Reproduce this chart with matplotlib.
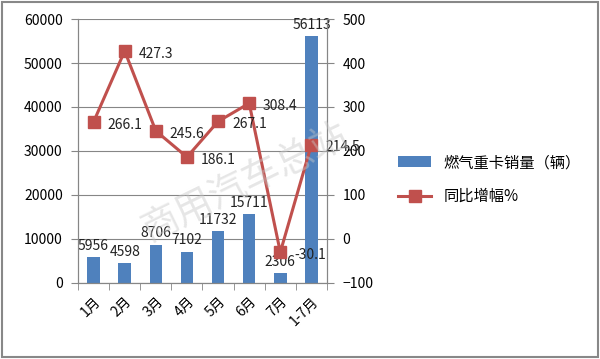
import matplotlib.pyplot as plt
import numpy as np

plt.rcParams['font.family'] = ['Noto Sans CJK SC', 'DejaVu Sans']

months = ['1月', '2月', '3月', '4月', '5月', '6月', '7月', '1-7月']
sales = [5956, 4598, 8706, 7102, 11732, 15711, 2306, 56113]
growth = [266.1, 427.3, 245.6, 186.1, 267.1, 308.4, -30.1, 214.5]

bar_color = '#4F81BD'
line_color = '#C0504D'
axis_gray = '#868686'

fig = plt.figure(figsize=(6, 3.59), dpi=100)
ax1 = fig.add_axes([0.13, 0.212, 0.415, 0.735])
ax2 = ax1.twinx()

x = np.arange(len(months))
ax1.bar(x, sales, width=0.4, color=bar_color, zorder=2, label='燃气重卡销量（辆）')
for xi, v in zip(x, sales):
    ax1.annotate(str(v), (xi, v), xytext=(0, 3), textcoords='offset points',
                 ha='center', va='bottom', fontsize=10, color='#222222')

ax2.plot(x, growth, color=line_color, linewidth=2.2, marker='s', markersize=9,
         label='同比增幅%', zorder=3)
for xi, v in zip(x, growth):
    ax2.annotate(f'{v:.1f}', (xi, v), xytext=(10, -2), textcoords='offset points',
                 ha='left', va='center', fontsize=10, color='#222222')

ax1.set_xlim(-0.5, len(months) - 0.5)
ax1.set_ylim(0, 60000)
ax1.set_yticks(np.arange(0, 60001, 10000))
ax2.set_ylim(-100, 500)
ax2.set_yticks(np.arange(-100, 501, 100))

ax1.set_xticks(x)
ax1.set_xticklabels(months, rotation=45, ha='right', rotation_mode='anchor')
ax1.set_xticks(np.arange(-0.5, len(months), 1), minor=True)
ax1.tick_params(axis='x', which='major', length=0, pad=8, labelsize=10)
ax1.tick_params(axis='x', which='minor', length=5, color=axis_gray)
ax1.tick_params(axis='y', length=5, color=axis_gray, labelsize=10, pad=6)
ax2.tick_params(axis='y', length=5, color=axis_gray, labelsize=10, pad=6)

ax1.grid(axis='y', color=axis_gray, linewidth=0.8, zorder=0)
ax1.set_axisbelow(True)
for ax in (ax1, ax2):
    ax.spines['top'].set_visible(False)
    for s in ('left', 'right', 'bottom'):
        ax.spines[s].set_color(axis_gray)

h1, l1 = ax1.get_legend_handles_labels()
h2, l2 = ax2.get_legend_handles_labels()
fig.legend(h1 + h2, l1 + l2, loc='center left', bbox_to_anchor=(0.64, 0.5),
           frameon=False, fontsize=11, handlelength=2.2, labelspacing=1.1)

# watermark
fig.text(0.41, 0.49, '商用汽车总站', rotation=26, fontsize=27, color='#c8c8c8',
         alpha=0.45, ha='center', va='center', zorder=10, fontweight='light')

fig.patches.append(plt.Rectangle((0.003, 0.005), 0.994, 0.99, transform=fig.transFigure,
                                 fill=False, edgecolor='#888888', linewidth=1.5))

fig.savefig('out.png', dpi=100)
